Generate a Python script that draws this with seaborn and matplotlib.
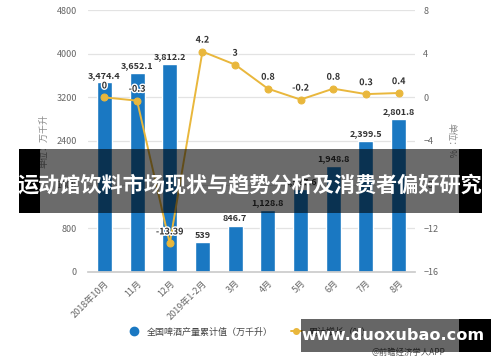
import matplotlib
matplotlib.use("Agg")
import matplotlib.pyplot as plt
import matplotlib.patheffects as pe
from matplotlib.patches import Rectangle
from matplotlib.lines import Line2D
import seaborn as sns
import pandas as pd
import numpy as np

MONTHS = ["2018年10月", "11月", "12月", "2019年1-2月", "3月", "4月", "5月", "6月", "7月", "8月"]
OUTPUT = [3474.4, 3652.1, 3812.2, 539, 846.7, 1128.8, 1527.6, 1948.8, 2399.5, 2801.8]
GROWTH = [0, -0.3, -13.39, 4.2, 3, 0.8, -0.2, 0.8, 0.3, 0.4]
GROWTH_LABELS = ["0", "-0.3", "-13.39", "4.2", "3", "0.8", "-0.2", "0.8", "0.3", "0.4"]

BLUE = "#1a78c2"
GOLD = "#e9b73c"

sns.set_theme(style="white")
plt.rcParams["font.family"] = ["Noto Sans CJK SC", "DejaVu Sans"]

df = pd.DataFrame({"month": MONTHS, "output": OUTPUT, "growth": GROWTH})
df["pos"] = np.arange(len(df))

fig = plt.figure(figsize=(5, 3.62), dpi=100)
ax = fig.add_axes([0.176, 0.249, 0.654, 0.723])

sns.barplot(data=df, x="month", y="output", color=BLUE, width=0.46,
            saturation=1, ax=ax, zorder=2)

def fmt(v):
    s = f"{v:,.1f}"
    return s[:-2] if s.endswith(".0") else s

ax.bar_label(ax.containers[0], labels=[fmt(v) for v in OUTPUT], padding=2,
             fontsize=6.5, fontweight="bold", color="#333333")

ax.set_ylim(0, 4800)
ax.set_yticks([0, 800, 1600, 2400, 3200, 4000, 4800])
ax.set_xlim(-0.5, len(MONTHS) - 0.5)
ax.grid(axis="y", color="#e3e3e3", linewidth=0.9, zorder=0)
ax.set_axisbelow(True)
for s in ["top", "right", "left"]:
    ax.spines[s].set_visible(False)
ax.spines["bottom"].set_color("#cccccc")
ax.tick_params(axis="y", labelsize=6.5, colors="#666666", length=0, pad=8)
ax.tick_params(axis="x", labelsize=6.5, colors="#666666", length=3, pad=2)
plt.setp(ax.get_xticklabels(), rotation=45, ha="right", rotation_mode="anchor")
ax.set_xlabel("")
ax.set_ylabel("单位：万千升", fontsize=6.5, color="#888888", labelpad=6)

ax2 = ax.twinx()
sns.lineplot(data=df, x="pos", y="growth", color=GOLD, linewidth=1.4,
             marker="o", markersize=5, markeredgecolor=GOLD, ax=ax2, zorder=3)
ax2.set_ylim(-16, 8)
ax2.set_yticks([-16, -12, -8, -4, 0, 4, 8])
ax2.set_xlim(-0.5, len(MONTHS) - 0.5)
for s in ["top", "right", "left", "bottom"]:
    ax2.spines[s].set_visible(False)
ax2.tick_params(axis="y", labelsize=6.5, colors="#666666", length=0, pad=6)
ax2.set_ylabel("单位：%", fontsize=6.5, color="#888888", rotation=270, labelpad=12)
for x, y, t in zip(df["pos"], GROWTH, GROWTH_LABELS):
    ax2.annotate(t, (x, y), xytext=(0, 5), textcoords="offset points",
                 ha="center", va="bottom", fontsize=6.5, fontweight="bold",
                 color="#333333",
                 path_effects=[pe.withStroke(linewidth=2, foreground="white")])

handles = [
    Line2D([], [], marker="o", linestyle="none", color=BLUE, markersize=6),
    Line2D([], [], marker="o", color=GOLD, markersize=4, linewidth=1.4),
]
fig.legend(handles, ["全国啤酒产量累计值（万千升）", "累计增长（%）"], ncol=2,
           loc="center", bbox_to_anchor=(0.5, 0.083), frameon=False,
           fontsize=6.5, labelcolor="#444444", handlelength=1.2, columnspacing=2)
fig.text(0.89, 0.026, "@前瞻经济学人APP", fontsize=6, color="#555555",
         ha="right", va="center")

# overlay banner
H, W = 362, 500
def rect(x0, y0, x1, y1, color, alpha):
    fig.patches.append(Rectangle((x0 / W, 1 - y1 / H), (x1 - x0) / W, (y1 - y0) / H,
                                 transform=fig.transFigure, color=color,
                                 alpha=alpha, zorder=10, linewidth=0))

rect(19, 149, 40, 213, "black", 1)
rect(40, 149, 459, 213, "black", 0.58)
rect(459, 149, 482, 213, "black", 1)
fig.text(250 / W, 1 - 185 / H, "运动馆饮料市场现状与趋势分析及消费者偏好研究",
         fontsize=15.2, fontweight="bold", color="white", ha="center",
         va="center", zorder=11)

rect(301, 319, 459, 352, "black", 0.6)
rect(459, 319, 491, 352, "black", 1)
fig.text(393 / W, 1 - 335 / H, "www.duoxubao.com", fontsize=11.6,
         fontweight="bold", color="white", ha="center", va="center",
         family="DejaVu Sans", zorder=11)

fig.savefig("out.png", dpi=100)
